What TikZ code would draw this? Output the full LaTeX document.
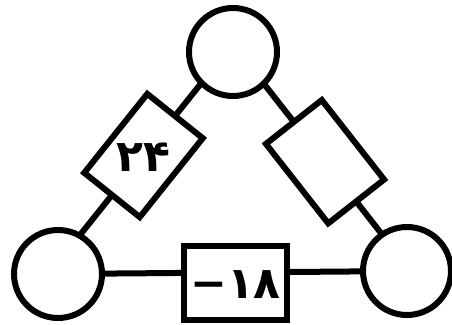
\documentclass[tikz,border=0pt]{standalone}
\usepackage{fontspec}
\newfontfamily\arabicfont[Script=Arabic]{DejaVu Sans}
\newfontfamily\plainfont{DejaVu Sans}
\usetikzlibrary{calc,backgrounds}
\begin{document}
\begin{tikzpicture}[x=1pt,y=-1pt,
  wire/.style={line width=6pt},
  junction/.style={circle,draw,line width=6pt,fill=white,minimum size=88pt,inner sep=0pt},
  cellbox/.style={rectangle,draw,line width=6pt,fill=white,minimum width=101pt,minimum height=71pt,inner sep=0pt},
  num/.style={font=\arabicfont\bfseries\fontsize{44}{48}\selectfont,inner sep=0pt}]
\useasboundingbox (0,0) rectangle (452,324);
\node[junction] (top) at (233,52) {};
\node[junction] (bl) at (58,274) {};
\node[junction] (br) at (407,271) {};
\node[cellbox,rotate=51.4] (lbox) at (143.5,155.5) {};
\node[cellbox,rotate=-51.9] (rbox) at (325,161.7) {};
\node[cellbox,minimum width=103pt,minimum height=74pt] (bbox) at (235.5,283) {};
\node[num] (lbl) at ([yshift=-2pt]lbox.center) {۲۴};
\node[num] (blbl) at ([yshift=-2pt]bbox.center) {{\plainfont\bfseries −}۱۸};
\begin{scope}[on background layer]
\draw[wire] ($(lbox.center)!2.3!(lbox.west)$) -- ($(lbox.center)!2.3!(lbox.east)$);
\draw[wire] ($(rbox.center)!2.3!(rbox.west)$) -- ($(rbox.center)!2.3!(rbox.east)$);
\draw[wire] (bl) -- (br);
\end{scope}
\end{tikzpicture}
\end{document}
